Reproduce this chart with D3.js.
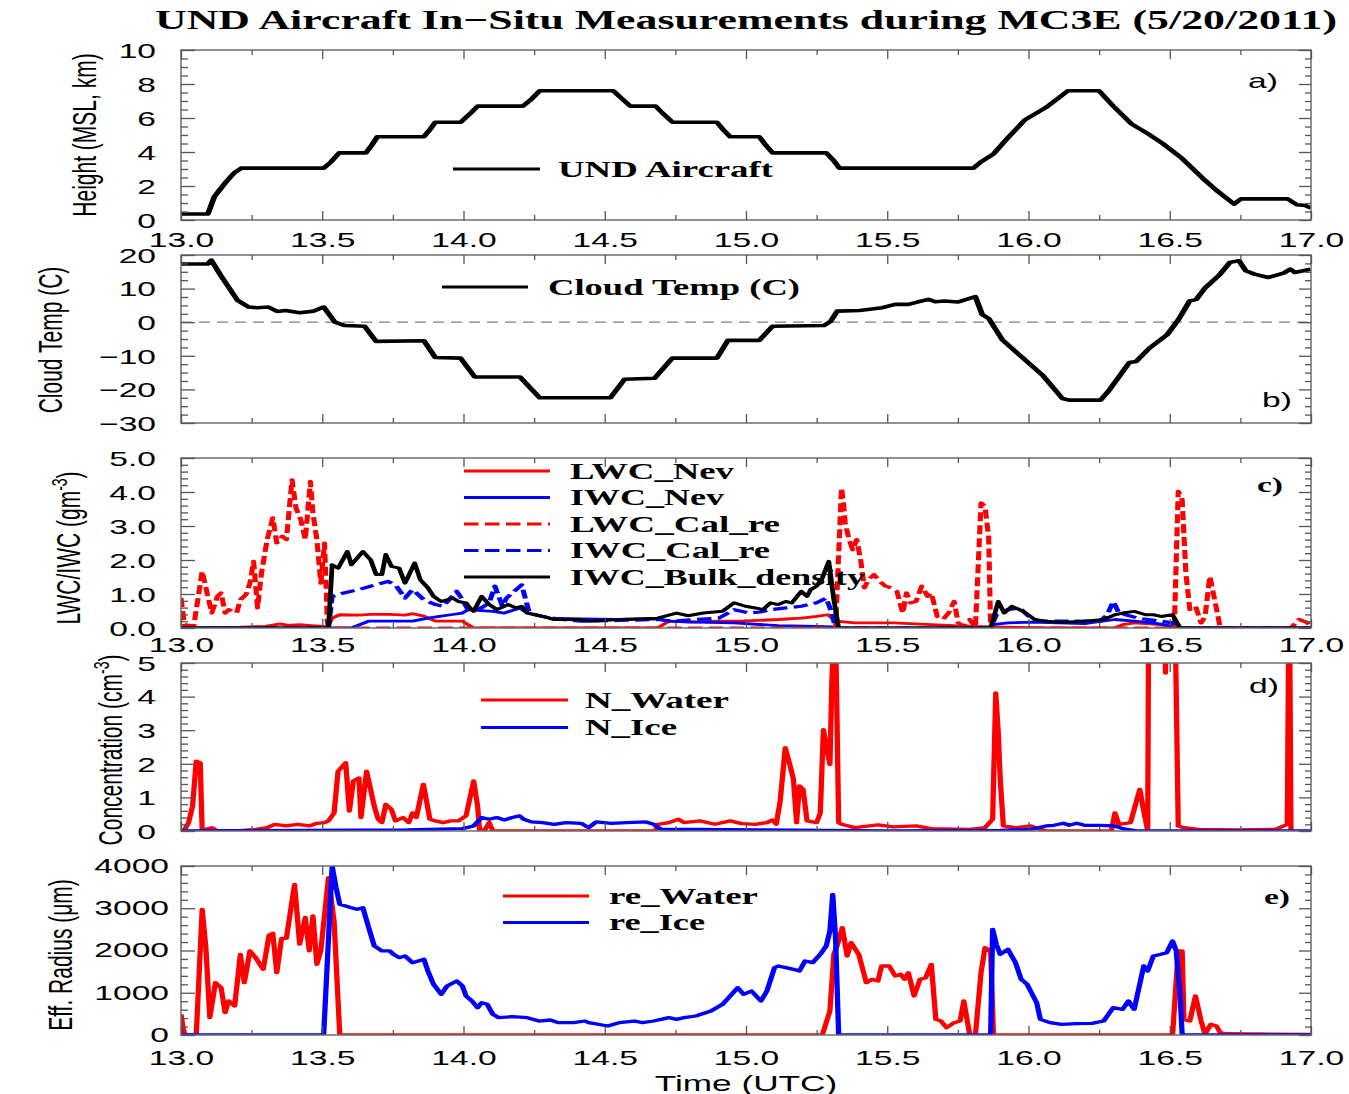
<!DOCTYPE html>
<html>
<head>
<meta charset="utf-8">
<script src="https://cdn.jsdelivr.net/npm/d3@7"></script>
<style>
  body { margin: 0; background: #fff; }
  svg { display: block; }
</style>
</head>
<body>
<svg id="chart" width="1349" height="1094"></svg>
<script>
// ---------------- data ----------------
// time axis (hours UTC)
const timeMajorTicks = [13.0, 13.5, 14.0, 14.5, 15.0, 15.5, 16.0, 16.5, 17.0];
const timeMinorTicks = [13.25, 13.75, 14.25, 14.75, 15.25, 15.75, 16.25, 16.75];

// y tick values per panel
const heightTicks = [0, 2, 4, 6, 8, 10];
const tempTicks = [-30, -20, -10, 0, 10, 20];
const waterTicks = [0, 1, 2, 3, 4, 5];
const concTicks = [0, 1, 2, 3, 4, 5];
const radiusTicks = [0, 1000, 2000, 3000, 4000];

// a) aircraft height (km MSL)
const heightKm = [
  [13.0,0.35],[13.095,0.35],[13.118,1.37],[13.141,1.86],[13.165,2.35],[13.19,2.8],[13.213,3.05],
  [13.505,3.05],[13.53,3.4],[13.56,3.95],[13.655,3.95],[13.675,4.4],[13.695,4.9],[13.86,4.9],
  [13.88,5.3],[13.9,5.75],[13.99,5.75],[14.02,6.2],[14.05,6.7],[14.21,6.7],[14.24,7.1],[14.27,7.6],
  [14.53,7.6],[14.56,7.15],[14.59,6.7],[14.68,6.7],[14.71,6.2],[14.74,5.75],[14.897,5.75],
  [14.92,5.3],[14.944,4.9],[15.047,4.9],[15.07,4.4],[15.094,3.95],[15.284,3.95],[15.31,3.5],
  [15.331,3.05],[15.805,3.05],[15.83,3.4],[15.877,3.9],[15.925,4.8],[15.988,5.9],[16.06,6.6],
  [16.1,7.1],[16.139,7.6],[16.25,7.6],[16.3,6.7],[16.365,5.65],[16.42,5.1],[16.475,4.5],
  [16.538,3.7],[16.617,2.45],[16.665,1.75],[16.728,0.94],[16.752,1.24],[16.918,1.24],
  [16.95,0.9],[16.98,0.85],[17.0,0.7]
];

// b) cloud temperature (C)
const cloudTemp = [
  [13.0,17.3],[13.094,17.3],[13.107,18.5],[13.14,14],[13.2,6.5],[13.24,4.5],[13.27,4.3],[13.31,4.5],
  [13.34,3.2],[13.37,3.5],[13.42,2.8],[13.47,3.3],[13.505,4.5],[13.545,0],[13.58,-1],[13.65,-1.2],
  [13.69,-5.7],[13.86,-5.5],[13.9,-10.5],[13.99,-10.7],[14.04,-16.3],[14.2,-16.3],[14.27,-22.5],
  [14.52,-22.5],[14.57,-17],[14.676,-16.7],[14.739,-10.7],[14.897,-10.7],[14.936,-5.4],
  [15.047,-5.4],[15.094,-1.2],[15.276,-1.0],[15.30,0.3],[15.323,3.3],[15.402,3.5],[15.481,4.3],
  [15.528,5.3],[15.575,5.3],[15.607,6.0],[15.646,6.8],[15.670,6.1],[15.702,6.3],[15.749,6.0],
  [15.812,7.6],[15.836,2.3],[15.86,1.0],[15.907,-5.2],[15.954,-8.7],[16.049,-15.7],[16.12,-22.7],
  [16.144,-23.2],[16.255,-23.2],[16.286,-20.2],[16.357,-12],[16.381,-11.7],[16.428,-7.7],
  [16.491,-3.7],[16.531,0.8],[16.57,6.3],[16.594,6.8],[16.626,10.3],[16.673,13.8],[16.713,17.8],
  [16.745,18.3],[16.769,15.3],[16.80,14.3],[16.848,13.3],[16.903,14.6],[16.927,15.8],
  [16.943,14.8],[16.998,15.8]
];

// c) water contents (g m-3)
const lwcNev = [
  [13.0,0],[13.2,0.02],[13.3,0.05],[13.35,0.12],[13.38,0.08],[13.42,0.1],[13.45,0.08],[13.5,0.05],
  [13.518,0.03],[13.535,0.29],[13.562,0.39],[13.63,0.38],[13.671,0.4],[13.739,0.4],[13.793,0.38],
  [13.82,0.42],[13.86,0.35],[13.901,0.2],[13.955,0.2],[13.996,0.2],[14.036,0],[14.687,0],
  [14.727,0.2],[14.8,0.17],[14.9,0.2],[14.979,0.2],[15.114,0.25],[15.196,0.29],[15.25,0.34],
  [15.29,0.39],[15.317,0.2],[15.385,0.15],[15.521,0.15],[15.656,0.1],[15.792,0.05],
  [15.873,0.03],[16.062,0],[16.306,0],[16.333,0.1],[16.374,0.15],[16.469,0.1],[16.523,0],[17.0,0]
];
const iwcNev = [
  [13.0,0],[13.535,0],[13.603,0],[13.664,0.2],[13.739,0.2],[13.82,0.2],[13.874,0.29],[13.915,0.34],
  [13.955,0.39],[13.996,0.44],[14.016,0.54],[14.05,0.52],[14.104,0.49],[14.145,0.44],[14.199,0.59],
  [14.226,0.44],[14.253,0.39],[14.28,0.34],[14.307,0.29],[14.416,0.27],[14.551,0.25],[14.687,0.27],
  [14.727,0.2],[14.822,0.17],[14.958,0.15],[15.114,0.07],[15.25,0.05],[15.304,0.03],[15.317,0],
  [15.866,0],[15.873,0.1],[15.927,0.15],[16.008,0.17],[16.198,0.13],[16.306,0.25],[16.374,0.2],
  [16.442,0.15],[16.51,0.05],[16.523,0],[17.0,0]
];
const lwcCalRe = [
  [13.0,0.88],[13.012,0.1],[13.045,0.05],[13.075,1.67],[13.095,0.93],[13.109,0.44],[13.129,0.93],
  [13.142,1.03],[13.156,0.44],[13.169,0.54],[13.183,0.49],[13.197,0.44],[13.21,0.83],[13.23,0.98],
  [13.244,1.32],[13.257,1.96],[13.271,0.59],[13.285,1.62],[13.305,2.6],[13.325,3.24],[13.339,2.5],
  [13.359,2.7],[13.373,2.6],[13.393,4.36],[13.407,3.53],[13.424,3.19],[13.44,2.6],[13.458,4.31],
  [13.467,3.38],[13.481,2.6],[13.495,1.32],[13.508,2.5],[13.518,0.2],[13.522,0],[15.317,0],
  [15.338,4.12],[15.345,3.68],[15.351,3.09],[15.365,2.6],[15.378,2.3],[15.392,2.6],[15.406,2.0],
  [15.419,1.18],[15.433,1.42],[15.453,1.57],[15.473,1.37],[15.494,1.23],[15.514,1.18],
  [15.534,1.08],[15.555,0.44],[15.568,1.03],[15.582,0.74],[15.602,0.78],[15.622,1.23],
  [15.643,0.93],[15.656,1.03],[15.677,0.34],[15.697,0.25],[15.717,0.44],[15.737,0.78],
  [15.751,0.15],[15.771,0.05],[15.792,0.25],[15.812,0],[15.832,3.68],[15.846,3.58],[15.859,2.67],
  [15.866,0],[16.516,0],[16.530,4.02],[16.544,3.77],[16.557,1.62],[16.571,0.54],[16.591,0.64],
  [16.611,0.15],[16.625,0.34],[16.642,1.52],[16.659,0.83],[16.679,0],[16.929,0],[16.957,0.25],
  [16.984,0.17],[17.0,0.05]
];
const iwcCalRe = [
  [13.0,0],[13.522,0],[13.535,0.93],[13.576,1.03],[13.63,1.13],[13.671,1.23],[13.732,1.37],
  [13.759,1.27],[13.793,0.88],[13.82,1.13],[13.86,0.83],[13.901,0.69],[13.928,0.64],[13.976,1.08],
  [13.996,0.83],[14.016,0.54],[14.064,0.59],[14.091,0.74],[14.111,1.23],[14.138,0.64],[14.152,0.88],
  [14.206,1.27],[14.233,0.44],[14.28,0.34],[14.348,0.25],[14.416,0.2],[14.551,0.22],[14.687,0.25],
  [14.741,0.2],[14.822,0.25],[14.904,0.29],[14.958,0.54],[15.012,0.44],[15.05,0.47],[15.087,0.54],
  [15.141,0.59],[15.196,0.64],[15.25,0.74],[15.284,0.88],[15.304,0.44],[15.317,0],[15.866,0],
  [15.886,0.39],[15.927,0.54],[15.968,0.59],[16.008,0.29],[16.036,0.2],[16.252,0.2],[16.279,0.39],
  [16.3,0.78],[16.32,0.44],[16.388,0.29],[16.469,0.2],[16.51,0.15],[16.523,0],[17.0,0]
];
const iwcBulkDensity = [
  [13.0,0],[13.522,0],[13.535,1.86],[13.556,1.76],[13.589,2.25],[13.603,1.86],[13.644,2.25],
  [13.671,2.01],[13.691,1.57],[13.711,1.57],[13.725,2.16],[13.745,1.81],[13.772,1.76],[13.793,1.32],
  [13.827,1.91],[13.847,1.42],[13.874,1.18],[13.894,0.93],[13.921,0.78],[13.942,0.83],[13.962,0.88],
  [13.982,0.78],[14.009,0.74],[14.023,0.59],[14.036,0.49],[14.064,0.93],[14.091,0.69],[14.118,0.54],
  [14.145,0.64],[14.158,0.69],[14.186,0.59],[14.206,0.64],[14.226,0.44],[14.253,0.39],[14.28,0.34],
  [14.321,0.25],[14.416,0.25],[14.443,0.2],[14.551,0.25],[14.687,0.29],[14.754,0.44],[14.795,0.36],
  [14.849,0.44],[14.917,0.49],[14.958,0.74],[14.998,0.64],[15.033,0.59],[15.06,0.54],[15.087,0.74],
  [15.114,0.69],[15.141,0.78],[15.162,0.74],[15.196,1.08],[15.216,0.93],[15.229,1.13],[15.25,1.23],
  [15.27,1.47],[15.293,1.96],[15.311,0.83],[15.328,0],[15.866,0],[15.893,0.78],[15.914,0.44],
  [15.941,0.64],[15.981,0.49],[16.022,0.25],[16.062,0.2],[16.117,0.17],[16.198,0.2],[16.266,0.25],
  [16.306,0.39],[16.333,0.44],[16.374,0.49],[16.415,0.39],[16.442,0.39],[16.469,0.34],[16.51,0.39],
  [16.537,0],[17.0,0]
];

// d) number concentration (cm-3)
const nWater = [
  [13.0,0],[13.01,0],[13.027,0.25],[13.041,0.74],[13.054,2.08],[13.068,2.03],[13.075,0],[13.089,0.05],
  [13.109,0.1],[13.129,0],[13.197,0],[13.264,0.05],[13.305,0.1],[13.332,0.2],[13.373,0.15],
  [13.413,0.2],[13.454,0.15],[13.481,0.23],[13.508,0.25],[13.522,0.3],[13.542,0.54],[13.556,1.78],
  [13.583,2.03],[13.596,0.59],[13.61,1.49],[13.63,1.58],[13.637,0.4],[13.657,1.78],[13.684,0.74],
  [13.698,0.35],[13.711,0.25],[13.725,0.79],[13.745,0.64],[13.759,0.3],[13.786,0.4],[13.806,0.25],
  [13.82,0.54],[13.833,0.4],[13.858,1.39],[13.881,0.35],[13.901,0.3],[13.928,0.25],[13.955,0.3],
  [13.982,0.3],[14.009,0.45],[14.036,1.49],[14.05,0.74],[14.057,0],[14.077,0.05],[14.091,0.25],
  [14.104,0],[14.68,0],[14.687,0.2],[14.727,0.25],[14.761,0.35],[14.781,0.25],[14.836,0.3],
  [14.89,0.2],[14.944,0.3],[14.985,0.22],[15.033,0.2],[15.074,0.25],[15.094,0.33],[15.107,0.2],
  [15.121,0.89],[15.139,2.48],[15.155,1.98],[15.168,1.54],[15.179,0.25],[15.189,1.34],[15.202,1.24],
  [15.216,0.3],[15.25,0.25],[15.263,0.54],[15.274,3.02],[15.284,2.52],[15.297,1.98],[15.304,4.46],
  [15.311,6],[15.317,6],[15.328,0.25],[15.338,0.2],[15.385,0.1],[15.467,0.18],[15.521,0.12],
  [15.602,0.15],[15.656,0.07],[15.792,0.05],[15.846,0.1],[15.873,0.35],[15.884,4.11],[15.893,2.92],
  [15.9,1.53],[15.911,0.15],[15.954,0.1],[16.008,0.15],[16.062,0],[16.293,0],[16.306,0.54],
  [16.32,0.2],[16.361,0.25],[16.394,1.24],[16.408,0.59],[16.422,0],[16.426,8],[16.48,8],
  [16.485,4.7],[16.493,8],[16.516,8],[16.53,0.15],[16.55,0.1],[16.604,0.05],[16.74,0.03],
  [16.875,0.05],[16.903,0.15],[16.916,0.2],[16.923,8],[16.929,0]
];
const nIce = [
  [13.0,0],[13.8,0.03],[13.996,0.07],[14.036,0.15],[14.064,0.4],[14.091,0.35],[14.118,0.4],
  [14.145,0.33],[14.172,0.4],[14.199,0.45],[14.213,0.35],[14.24,0.27],[14.28,0.25],[14.321,0.2],
  [14.362,0.25],[14.416,0.23],[14.443,0.1],[14.47,0.27],[14.524,0.23],[14.578,0.25],[14.646,0.27],
  [14.673,0.2],[14.7,0.05],[14.822,0.05],[15.05,0.03],[15.5,0],[15.9,0.02],[16.008,0.05],
  [16.036,0.1],[16.062,0.15],[16.09,0.17],[16.124,0.23],[16.144,0.17],[16.171,0.23],[16.198,0.17],
  [16.252,0.17],[16.306,0.15],[16.333,0.07],[16.388,0],[17.0,0]
];

// e) effective radius (um)
const reWater = [
  [13.0,490],[13.007,174],[13.014,0],[13.054,0],[13.075,2975],[13.088,2068],[13.102,410],
  [13.122,1238],[13.142,1120],[13.156,528],[13.169,805],[13.19,686],[13.21,1910],[13.224,1238],
  [13.244,1989],[13.264,1831],[13.291,1554],[13.312,2367],[13.325,2407],[13.339,1475],[13.356,2288],
  [13.373,2288],[13.402,3566],[13.42,2150],[13.44,2781],[13.454,1989],[13.467,2821],[13.481,1673],
  [13.495,2000],[13.522,3724],[13.542,2683],[13.562,0],[15.27,0],[15.297,568],[15.311,1910],
  [15.324,2146],[15.341,2541],[15.358,1870],[15.372,2186],[15.399,1910],[15.426,1238],[15.446,1318],
  [15.467,1278],[15.48,1633],[15.507,1633],[15.528,1396],[15.548,1436],[15.561,1318],[15.575,1475],
  [15.595,923],[15.616,1318],[15.636,1357],[15.656,1673],[15.672,370],[15.69,331],[15.71,173],
  [15.737,292],[15.758,331],[15.771,805],[15.792,0],[15.812,0],[15.832,1475],[15.846,2068],
  [15.866,1989],[15.876,0],[16.51,0],[16.53,1989],[16.544,1989],[16.55,370],[16.571,331],
  [16.591,923],[16.611,331],[16.625,16],[16.645,252],[16.665,213],[16.679,55],[16.699,30],[17.0,15]
];
const reIce = [
  [13.0,0],[13.505,0],[13.535,4000],[13.549,3487],[13.562,3093],[13.603,3013],[13.623,2974],
  [13.644,3013],[13.664,2550],[13.684,2109],[13.711,1989],[13.739,1989],[13.752,1910],[13.772,1831],
  [13.793,1870],[13.82,1712],[13.86,1791],[13.874,1515],[13.894,1200],[13.921,963],[13.942,1160],
  [13.976,1278],[13.996,1160],[14.009,923],[14.03,805],[14.05,647],[14.064,765],[14.084,726],
  [14.104,489],[14.125,410],[14.172,434],[14.226,410],[14.267,331],[14.307,355],[14.335,292],
  [14.389,292],[14.43,331],[14.443,292],[14.511,213],[14.551,292],[14.605,331],[14.633,292],
  [14.673,331],[14.727,410],[14.754,371],[14.781,410],[14.822,450],[14.876,568],[14.917,726],
  [14.944,923],[14.971,1120],[14.991,963],[15.019,1041],[15.053,805],[15.074,1041],[15.101,1594],
  [15.114,1633],[15.141,1594],[15.168,1554],[15.189,1515],[15.209,1752],[15.236,1712],[15.263,1910],
  [15.284,2107],[15.297,2462],[15.307,3330],[15.317,2304],[15.328,0],[15.866,0],[15.873,2501],
  [15.886,2146],[15.9,1910],[15.927,2028],[15.954,1712],[15.974,1318],[15.995,1199],[16.029,765],
  [16.042,371],[16.076,292],[16.117,252],[16.171,268],[16.225,276],[16.266,331],[16.3,647],
  [16.333,607],[16.354,805],[16.374,607],[16.408,1633],[16.422,1515],[16.442,1870],[16.469,1910],
  [16.489,1949],[16.51,2225],[16.523,1989],[16.537,884],[16.544,0],[17.0,0]
];

// ---------------- drawing ----------------
const svg = d3.select('#chart');
const SX = 1.6;                       // horizontal stretch applied to text glyphs and data strokes
const SANS = '"Liberation Sans", Arial, sans-serif';
const SERIF = '"Liberation Serif", "Times New Roman", serif';
const RED = '#ff0000', BLUE = '#0000ff', BLACK = '#000000';

const x = d3.scaleLinear().domain([13, 17]).range([181, 1311]);
const X0 = x.range()[0], X1 = x.range()[1];

function stretchedText(g, tx, ty, str, opts) {
  const t = g.append('text')
    .attr('transform', `translate(${tx},${ty}) scale(${opts.sx || SX},1)` + (opts.rotate ? ` rotate(${opts.rotate})` : ''))
    .attr('text-anchor', opts.anchor || 'start')
    .attr('dy', opts.dy || '0.35em')
    .style('font-family', opts.family || SANS)
    .style('font-size', (opts.size || 21) + 'px')
    .style('font-weight', opts.weight || 'normal')
    .attr('fill', '#000');
  if (str !== null) t.text(str);
  return t;
}

function drawPanel(p) {
  const g = svg.append('g');
  const y = d3.scaleLinear().domain(p.domain).range([p.bottom, p.top]);
  const clipId = 'clip-' + p.id;
  svg.append('clipPath').attr('id', clipId)
    .append('rect').attr('x', X0).attr('y', p.top).attr('width', X1 - X0).attr('height', p.bottom - p.top);

  // reference line
  if (p.refLine !== undefined) {
    g.append('line')
      .attr('x1', X0).attr('x2', X1).attr('y1', y(p.refLine)).attr('y2', y(p.refLine))
      .attr('stroke', '#808080').attr('stroke-width', 1.2).attr('stroke-dasharray', '11,7');
  }

  // series: drawn in a horizontally compressed frame, then stretched back,
  // so steep strokes come out wider than flat ones
  const line = d3.line().x(d => x(d[0]) / SX).y(d => y(d[1]));
  const sg = g.append('g').attr('clip-path', `url(#${clipId})`)
    .append('g').attr('transform', `scale(${SX},1)`);
  p.series.forEach(s => {
    sg.append('path').datum(s.data)
      .attr('d', line)
      .attr('fill', 'none')
      .attr('stroke', s.color)
      .attr('stroke-width', s.width || 3)
      .attr('stroke-linejoin', 'round')
      .attr('stroke-dasharray', s.dash ? '9,4' : null);
  });

  // frame
  g.append('rect').attr('x', X0).attr('y', p.top).attr('width', X1 - X0).attr('height', p.bottom - p.top)
    .attr('fill', 'none').attr('stroke', '#6e6e6e').attr('stroke-width', 1.5);

  const styleAxis = ax => {
    ax.select('.domain').remove();
    ax.selectAll('line').attr('stroke', '#555').attr('stroke-width', 1.3);
  };

  // x ticks (inward on top and bottom)
  const xb = g.append('g').attr('transform', `translate(0,${p.bottom})`)
    .call(d3.axisBottom(x).tickValues(timeMajorTicks).tickSizeInner(-9).tickSizeOuter(0)
      .tickFormat(p.xLabels ? d3.format('.1f') : () => ''));
  g.append('g').attr('transform', `translate(0,${p.bottom})`)
    .call(d3.axisBottom(x).tickValues(timeMinorTicks).tickSizeInner(-5).tickSizeOuter(0).tickFormat(() => ''))
    .call(styleAxis);
  g.append('g').attr('transform', `translate(0,${p.top})`)
    .call(d3.axisTop(x).tickValues(timeMajorTicks).tickSizeInner(-9).tickSizeOuter(0).tickFormat(() => ''))
    .call(styleAxis);
  g.append('g').attr('transform', `translate(0,${p.top})`)
    .call(d3.axisTop(x).tickValues(timeMinorTicks).tickSizeInner(-5).tickSizeOuter(0).tickFormat(() => ''))
    .call(styleAxis);
  styleAxis(xb);
  xb.selectAll('text')
    .attr('y', null).attr('dy', '0.35em')
    .attr('transform', `translate(0,${p.xLabelY - p.bottom}) scale(${SX},1)`)
    .attr('fill', '#000')
    .style('font-family', SANS).style('font-size', '21px');

  // y ticks (inward on left and right)
  const yMinor = d3.range(p.domain[0], p.domain[1] + 1e-9, p.minorStep)
    .filter(v => !p.ticks.some(t => Math.abs(t - v) < 1e-9));
  const yl = g.append('g').attr('transform', `translate(${X0},0)`)
    .call(d3.axisLeft(y).tickValues(p.ticks).tickSizeInner(-14).tickSizeOuter(0).tickFormat(d3.format(p.fmt)));
  styleAxis(yl);
  yl.selectAll('text')
    .attr('x', null).attr('dy', p.yLabelDy || '0.35em')
    .attr('transform', `translate(${p.yLabelRight - X0},0) scale(${SX},1)`)
    .attr('fill', '#000')
    .style('font-family', SANS).style('font-size', '21px');
  g.append('g').attr('transform', `translate(${X0},0)`)
    .call(d3.axisLeft(y).tickValues(yMinor).tickSizeInner(-7).tickSizeOuter(0).tickFormat(() => ''))
    .call(styleAxis);
  g.append('g').attr('transform', `translate(${X1},0)`)
    .call(d3.axisRight(y).tickValues(p.ticks).tickSizeInner(-12).tickSizeOuter(0).tickFormat(() => ''))
    .call(styleAxis);
  g.append('g').attr('transform', `translate(${X1},0)`)
    .call(d3.axisRight(y).tickValues(yMinor).tickSizeInner(-6).tickSizeOuter(0).tickFormat(() => ''))
    .call(styleAxis);

  // y title (rotated, stretched horizontally like the rest of the text)
  const yt = stretchedText(g, p.title.x, p.title.y, null, { anchor: 'middle', rotate: -90, size: 21 });
  yt.append('tspan').text(p.title.main);
  if (p.title.sup) {
    yt.append('tspan').attr('dy', '-0.55em').style('font-size', '14px').text(p.title.sup);
    yt.append('tspan').attr('dy', '0.38em').text(p.title.end);
  }

  // panel letter
  stretchedText(g, p.tag.x, p.tag.y, p.tag.text, {
    anchor: 'middle', family: p.tag.serif ? SERIF : SANS, weight: p.tag.serif ? 'bold' : 'normal', size: 21
  });

  // legend
  p.legend.rows.forEach((r, i) => {
    const ly = p.legend.y0 + i * p.legend.dy;
    g.append('line')
      .attr('x1', p.legend.x1).attr('x2', p.legend.x2).attr('y1', ly).attr('y2', ly)
      .attr('stroke', r.color).attr('stroke-width', 3.2)
      .attr('stroke-dasharray', r.dash ? '14.5,6.5' : null);
    g.append('text')
      .attr('x', p.legend.tx).attr('y', ly).attr('dy', '0.35em')
      .attr('textLength', r.w).attr('lengthAdjust', 'spacingAndGlyphs')
      .style('font-family', SERIF).style('font-weight', 'bold').style('font-size', '22.5px')
      .attr('fill', '#000')
      .text(r.label);
  });
}

// title
svg.append('text')
  .attr('x', 155).attr('y', 20).attr('dy', '0.35em')
  .attr('textLength', 1182).attr('lengthAdjust', 'spacingAndGlyphs')
  .style('font-family', SERIF).style('font-weight', 'bold').style('font-size', '27px')
  .attr('fill', '#000')
  .text('UND Aircraft In\u2212Situ Measurements during MC3E (5/20/2011)');

const panels = [
  { id: 'a', top: 50, bottom: 220, domain: [0, 10], ticks: heightTicks, minorStep: 0.5, fmt: 'd',
    xLabels: true, xLabelY: 240, yLabelRight: 156,
    title: { x: 84, y: 135, main: 'Height (MSL, km)' },
    tag: { x: 1263, y: 81, text: 'a)' },
    series: [{ data: heightKm, color: BLACK, width: 3.6 }],
    legend: { x1: 453, x2: 540, tx: 558, y0: 169, dy: 0,
      rows: [{ label: 'UND Aircraft', color: BLACK, w: 215 }] } },
  { id: 'b', top: 255, bottom: 423, domain: [-30, 20], ticks: tempTicks, minorStep: 2.5, fmt: 'd',
    xLabels: false, xLabelY: 0, yLabelRight: 156, refLine: 0,
    title: { x: 50, y: 340, main: 'Cloud Temp (C)' },
    tag: { x: 1277, y: 400, text: 'b)' },
    series: [{ data: cloudTemp, color: BLACK, width: 3.6 }],
    legend: { x1: 442, x2: 528, tx: 548, y0: 287, dy: 0,
      rows: [{ label: 'Cloud Temp (C)', color: BLACK, w: 252 }] } },
  { id: 'c', top: 458, bottom: 628, domain: [0, 5], ticks: waterTicks, minorStep: 0.2, fmt: '.1f',
    xLabels: true, xLabelY: 645, yLabelRight: 156,
    title: { x: 68, y: 548, main: 'LWC/IWC (gm', sup: '-3', end: ')' },
    tag: { x: 1270, y: 485, text: 'c)', serif: true },
    series: [
      { data: lwcNev, color: RED, width: 2.8 },
      { data: iwcNev, color: BLUE, width: 2.8 },
      { data: lwcCalRe, color: RED, width: 3.2, dash: true },
      { data: iwcCalRe, color: BLUE, width: 3.2, dash: true },
      { data: iwcBulkDensity, color: BLACK, width: 3 }
    ],
    legend: { x1: 464, x2: 550, tx: 570, y0: 471, dy: 26.5,
      rows: [
        { label: 'LWC_Nev', color: RED, w: 164 },
        { label: 'IWC_Nev', color: BLUE, w: 154 },
        { label: 'LWC_Cal_re', color: RED, dash: true, w: 210 },
        { label: 'IWC_Cal_re', color: BLUE, dash: true, w: 200 },
        { label: 'IWC_Bulk_density', color: BLACK, w: 295 }
      ] } },
  { id: 'd', top: 663, bottom: 831, domain: [0, 5], ticks: concTicks, minorStep: 0.2, fmt: 'd',
    xLabels: false, xLabelY: 0, yLabelRight: 156,
    title: { x: 110, y: 750, main: 'Concentration (cm', sup: '-3', end: ')' },
    tag: { x: 1264, y: 686, text: 'd)' },
    series: [
      { data: nWater, color: RED, width: 3.3 },
      { data: nIce, color: BLUE, width: 3.3 }
    ],
    legend: { x1: 481, x2: 568, tx: 585, y0: 700, dy: 27.5,
      rows: [
        { label: 'N_Water', color: RED, w: 144 },
        { label: 'N_Ice', color: BLUE, w: 92 }
      ] } },
  { id: 'e', top: 866, bottom: 1035, domain: [0, 4000], ticks: radiusTicks, minorStep: 200, fmt: 'd',
    xLabels: true, xLabelY: 1058, yLabelRight: 169, yLabelDy: '0.3em',
    title: { x: 60, y: 955, main: 'Eff. Radius (\u03bcm)' },
    tag: { x: 1277, y: 897, text: 'e)', serif: true },
    series: [
      { data: reWater, color: RED, width: 3.3 },
      { data: reIce, color: BLUE, width: 3.3 }
    ],
    legend: { x1: 503, x2: 589, tx: 609, y0: 896, dy: 26.5,
      rows: [
        { label: 're_Water', color: RED, w: 149 },
        { label: 're_Ice', color: BLUE, w: 96 }
      ] } }
];

panels.forEach(drawPanel);

// x axis title
stretchedText(svg, 746, 1083, 'Time (UTC)', { anchor: 'middle', size: 22 });
</script>
</body>
</html>
